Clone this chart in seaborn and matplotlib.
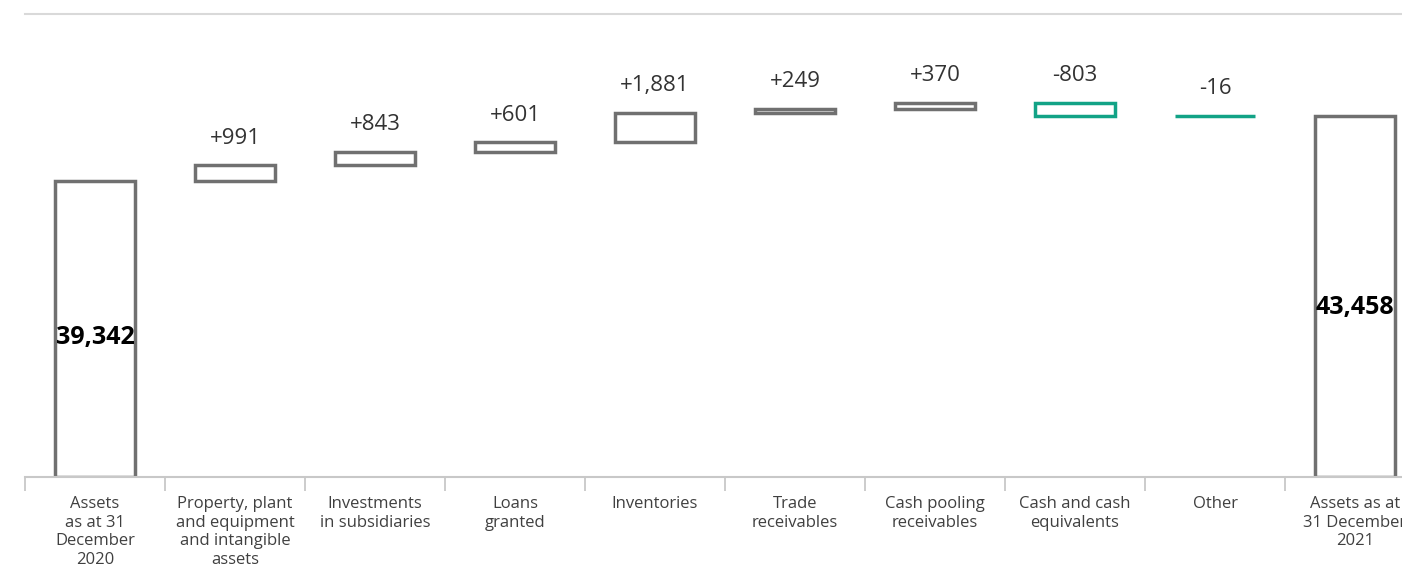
import numpy as np
import pandas as pd
import matplotlib.pyplot as plt
import seaborn as sns

# -----------------------------
# DATA
# -----------------------------
categories = [
    "Assets\nas at 31\nDecember\n2020",
    "Property, plant\nand equipment\nand intangible\nassets",
    "Investments\nin subsidiaries",
    "Loans\ngranted",
    "Inventories",
    "Trade\nreceivables",
    "Cash pooling\nreceivables",
    "Cash and cash\nequivalents",
    "Other",
    "Assets as at\n31 December\n2021",
]
start_total = 39342
changes = [991, 843, 601, 1881, 249, 370, -803, -16]
end_total = 43458

change_labels = ["+991", "+843", "+601", "+1,881", "+249", "+370", "-803", "-16"]
total_labels = ["39,342", "43,458"]

# -----------------------------
# STYLE
# -----------------------------
sns.set_style("white")
plt.rcParams["font.family"] = ["Open Sans", "DejaVu Sans"]

GRAY = "#707070"
GREEN = "#12a386"
Y_MIN, Y_MAX = 20600, 49900

# -----------------------------
# WATERFALL GEOMETRY
# -----------------------------
levels = np.cumsum([start_total] + changes)
bottoms = [Y_MIN]
heights = [start_total - Y_MIN]
for i, c in enumerate(changes):
    bottoms.append(min(levels[i], levels[i + 1]))
    heights.append(abs(c))
bottoms.append(Y_MIN)
heights.append(end_total - Y_MIN)

df = pd.DataFrame({"category": categories, "height": heights})

# -----------------------------
# PLOT
# -----------------------------
fig = plt.figure(figsize=(14.02, 5.69), dpi=100)
ax = fig.add_axes([25 / 1402, 0.1617, 1400 / 1402, 0.8137])

sns.barplot(data=df, x="category", y="height", order=categories,
            bottom=bottoms, fill=False, width=0.57, linewidth=2.5,
            color=GRAY, errorbar=None, ax=ax)

for i, patch in enumerate(ax.patches):
    if 1 <= i <= len(changes) and changes[i - 1] < 0:
        patch.set_edgecolor(GREEN)
    else:
        patch.set_edgecolor(GRAY)

# change labels
for i, c in enumerate(changes):
    top = max(levels[i], levels[i + 1])
    ax.annotate(change_labels[i], (i + 1, top), xytext=(0, 12),
                textcoords="offset points", ha="center", va="bottom",
                fontsize=16, color="#333333")

# total labels
for x, total, lab in [(0, start_total, total_labels[0]),
                      (len(categories) - 1, end_total, total_labels[1])]:
    ax.text(x, Y_MIN + (total - Y_MIN) * 0.47, lab, ha="center", va="center",
            fontsize=18, fontweight="bold", color="black")

ax.set_ylim(Y_MIN, Y_MAX)
ax.set_xlim(-0.5, len(categories) - 0.5)
ax.set_xlabel("")
ax.set_ylabel("")
ax.set_yticks([])

ax.set_xticks(np.arange(-0.5, len(categories), 1), minor=True)
ax.tick_params(axis="x", which="major", bottom=False, length=0, pad=14,
               labelsize=12, labelcolor="#404040")
ax.tick_params(axis="x", which="minor", bottom=True, length=10, width=1.3,
               color="#c8c8c8", direction="out")

for s in ["left", "right"]:
    ax.spines[s].set_visible(False)
ax.spines["bottom"].set_color("#c8c8c8")
ax.spines["bottom"].set_linewidth(1.5)
ax.spines["top"].set_color("#d9d9d9")
ax.spines["top"].set_linewidth(1.5)

fig.savefig("out.png", dpi=100)
